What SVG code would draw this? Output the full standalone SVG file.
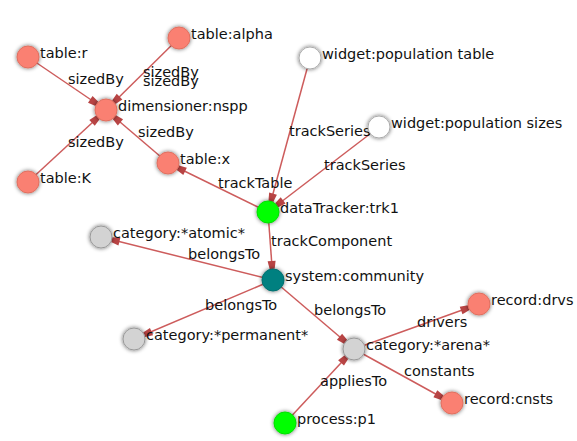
<svg xmlns="http://www.w3.org/2000/svg" width="577" height="441" viewBox="0 0 577 441">
<style>
.edge{stroke:#cd5c5c;stroke-width:1.5;fill:none;marker-end:url(#arr)}
.el{font-family:"DejaVu Sans",sans-serif;font-size:14.5px;fill:#111}
.nl{font-family:"DejaVu Sans",sans-serif;font-size:14.5px;fill:#111}
.n circle{filter:url(#sh);stroke-width:1}
.salmon{fill:#fa8072;stroke:#e07060}
.white{fill:#ffffff;stroke:#aaaaaa}
.grey{fill:#d3d3d3;stroke:#999999}
.lime{fill:#00ff00;stroke:#00e000}
.teal{fill:#008080;stroke:#007070}
</style>
<defs>
<filter id="sh" x="-50%" y="-50%" width="200%" height="200%">
<feGaussianBlur in="SourceAlpha" stdDeviation="2"/>
<feComponentTransfer><feFuncA type="linear" slope="0.6"/></feComponentTransfer>
<feMerge><feMergeNode/><feMergeNode in="SourceGraphic"/></feMerge>
</filter>
<marker id="arr" markerUnits="userSpaceOnUse" markerWidth="30" markerHeight="12" refX="20" refY="0" orient="auto" overflow="visible" viewBox="0 -6 30 12">
<path d="M1,-4 L9,-2.5 L9,2.5 L1,4 z" fill="#b84444"/>
</marker>
</defs>
<g id="connectors">
<line class="edge" x1="28" y1="57" x2="106" y2="110"/>
<line class="edge" x1="179" y1="38" x2="106" y2="110"/>
<line class="edge" x1="28" y1="182" x2="106" y2="110"/>
<line class="edge" x1="168" y1="163" x2="106" y2="110"/>
<line class="edge" x1="268" y1="212" x2="168" y2="163"/>
<line class="edge" x1="310" y1="58" x2="268" y2="212"/>
<line class="edge" x1="379" y1="127" x2="268" y2="212"/>
<line class="edge" x1="268" y1="212" x2="273" y2="280"/>
<line class="edge" x1="273" y1="280" x2="101" y2="237"/>
<line class="edge" x1="273" y1="280" x2="134" y2="339"/>
<line class="edge" x1="273" y1="280" x2="354" y2="349"/>
<line class="edge" x1="354" y1="349" x2="479" y2="304"/>
<line class="edge" x1="354" y1="349" x2="452" y2="403"/>
<line class="edge" x1="285" y1="423" x2="354" y2="349"/>
<text class="el" x="68" y="84">sizedBy</text>
<text class="el" x="143" y="77">sizedBy</text>
<text class="el" x="143" y="86">sizedBy</text>
<text class="el" x="68" y="147">sizedBy</text>
<text class="el" x="138" y="137">sizedBy</text>
<text class="el" x="218" y="188">trackTable</text>
<text class="el" x="289" y="136">trackSeries</text>
<text class="el" x="324" y="170">trackSeries</text>
<text class="el" x="271" y="246">trackComponent</text>
<text class="el" x="188" y="259">belongsTo</text>
<text class="el" x="205" y="310">belongsTo</text>
<text class="el" x="314" y="315">belongsTo</text>
<text class="el" x="417" y="327">drivers</text>
<text class="el" x="404" y="376">constants</text>
<text class="el" x="320" y="386">appliesTo</text>
</g>
<g id="table-r" class="n"><circle class="salmon" cx="28" cy="57" r="11"/><text class="nl" x="40" y="58">table:r</text></g>
<g id="table-alpha" class="n"><circle class="salmon" cx="179" cy="38" r="11"/><text class="nl" x="191" y="39">table:alpha</text></g>
<g id="dimensioner-nspp" class="n"><circle class="salmon" cx="106" cy="110" r="11"/><text class="nl" x="118" y="111">dimensioner:nspp</text></g>
<g id="table-K" class="n"><circle class="salmon" cx="28" cy="182" r="11"/><text class="nl" x="40" y="183">table:K</text></g>
<g id="table-x" class="n"><circle class="salmon" cx="168" cy="163" r="11"/><text class="nl" x="180" y="164">table:x</text></g>
<g id="widget-population-table" class="n"><circle class="white" cx="310" cy="58" r="11"/><text class="nl" x="322" y="59">widget:population table</text></g>
<g id="widget-population-sizes" class="n"><circle class="white" cx="379" cy="127" r="11"/><text class="nl" x="391" y="128">widget:population sizes</text></g>
<g id="dataTracker-trk1" class="n"><circle class="lime" cx="268" cy="212" r="11"/><text class="nl" x="280" y="213">dataTracker:trk1</text></g>
<g id="system-community" class="n"><circle class="teal" cx="273" cy="280" r="11"/><text class="nl" x="285" y="281">system:community</text></g>
<g id="category-atomic" class="n"><circle class="grey" cx="101" cy="237" r="11"/><text class="nl" x="113" y="238">category:*atomic*</text></g>
<g id="category-permanent" class="n"><circle class="grey" cx="134" cy="339" r="11"/><text class="nl" x="146" y="340">category:*permanent*</text></g>
<g id="category-arena" class="n"><circle class="grey" cx="354" cy="349" r="11"/><text class="nl" x="366" y="350">category:*arena*</text></g>
<g id="record-drvs" class="n"><circle class="salmon" cx="479" cy="304" r="11"/><text class="nl" x="491" y="305">record:drvs</text></g>
<g id="record-cnsts" class="n"><circle class="salmon" cx="452" cy="403" r="11"/><text class="nl" x="464" y="404">record:cnsts</text></g>
<g id="process-p1" class="n"><circle class="lime" cx="285" cy="423" r="11"/><text class="nl" x="297" y="424">process:p1</text></g>
</svg>
